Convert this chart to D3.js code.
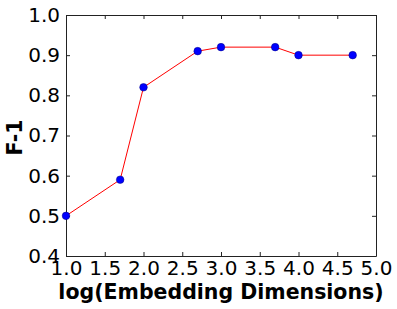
<!DOCTYPE html>
<html>
<head>
<meta charset="utf-8">
<script src="https://cdn.jsdelivr.net/npm/d3@7"></script>
<style>
body { margin: 0; background: #fff; }
text { font-family: "DejaVu Sans", sans-serif; fill: #000; }
</style>
</head>
<body>
<div id="chart"></div>
<script>
// log10 of embedding dimensions and F-1 score
var dims = [1.0, 1.699, 2.0, 2.699, 3.0, 3.699, 4.0, 4.699];
var f1 = [0.50, 0.59, 0.82, 0.91, 0.92, 0.92, 0.90, 0.90];
var xTicks = [1.0, 1.5, 2.0, 2.5, 3.0, 3.5, 4.0, 4.5, 5.0];
var yTicks = [0.4, 0.5, 0.6, 0.7, 0.8, 0.9, 1.0];

var w = 397, h = 309;
var margins = {top: 15, right: 21, bottom: 53, left: 66};
var graph = {width: w - margins.left - margins.right, height: h - margins.top - margins.bottom};

var data = dims.map(function(d, i) { return {x: d, y: f1[i]}; });

var svg = d3.select("#chart")
  .append("svg")
  .attr("width", w)
  .attr("height", h);

var x = d3.scaleLinear().domain([1, 5]).range([0, graph.width]);
var y = d3.scaleLinear().domain([0.4, 1.0]).range([graph.height, 0]);

var g = svg.append("g")
  .attr("transform", "translate(" + margins.left + "," + margins.top + ")");

var fmt = d3.format(".1f");

// ticks point inward on all four sides
var xAxis = d3.axisBottom(x).tickValues(xTicks).tickFormat(fmt).tickSizeInner(-4).tickSizeOuter(0).tickPadding(5);
var yAxis = d3.axisLeft(y).tickValues(yTicks).tickFormat(fmt).tickSizeInner(-4).tickSizeOuter(0).tickPadding(6);
var xTop = d3.axisTop(x).tickValues(xTicks).tickFormat("").tickSizeInner(-4).tickSizeOuter(0);
var yRight = d3.axisRight(y).tickValues(yTicks).tickFormat("").tickSizeInner(-4).tickSizeOuter(0);

g.append("g").attr("transform", "translate(0," + graph.height + ")").call(xAxis);
g.append("g").call(yAxis);
g.append("g").call(xTop);
g.append("g").attr("transform", "translate(" + graph.width + ",0)").call(yRight);

g.selectAll(".domain").attr("stroke", "#222");
g.selectAll(".tick line").attr("stroke", "#222");
g.selectAll(".tick text").style("font-size", "20px").style("font-family", "DejaVu Sans, sans-serif").attr("fill", "#000");

var line = d3.line()
  .x(function(d) { return x(d.x); })
  .y(function(d) { return y(d.y); });

g.append("path")
  .datum(data)
  .attr("fill", "none")
  .attr("stroke", "#ff0000")
  .attr("stroke-width", 1)
  .attr("d", line);

g.selectAll("circle")
  .data(data)
  .enter()
  .append("circle")
  .attr("cx", function(d) { return x(d.x); })
  .attr("cy", function(d) { return y(d.y); })
  .attr("r", 3.8)
  .attr("fill", "#0000ff")
  .attr("stroke", "#000080")
  .attr("stroke-width", 0.5);

svg.append("text")
  .text("log(Embedding Dimensions)")
  .attr("text-anchor", "middle")
  .attr("x", margins.left + graph.width / 2)
  .attr("y", 299)
  .style("font-size", "20.5px")
  .style("font-weight", "bold");

svg.append("text")
  .text("F-1")
  .attr("text-anchor", "middle")
  .attr("transform", "translate(22," + (margins.top + graph.height / 2 + 2) + ") rotate(-90)")
  .style("font-size", "20.5px")
  .style("font-weight", "bold");
</script>
</body>
</html>
